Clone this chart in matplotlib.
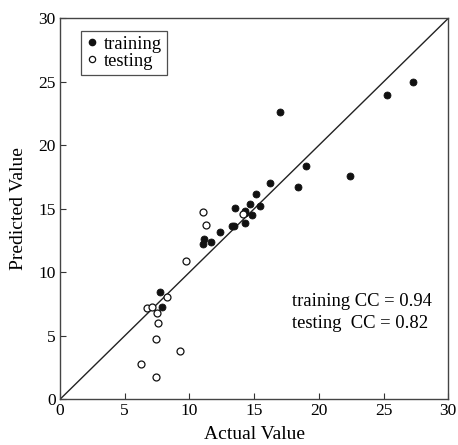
import matplotlib
matplotlib.use("Agg")
import matplotlib.pyplot as plt
from matplotlib.lines import Line2D

plt.rcParams['font.family'] = ['Liberation Serif', 'DejaVu Serif']
plt.rcParams['mathtext.fontset'] = 'stix'

train_actual = [7.73, 7.86, 11.06, 11.12, 11.66, 12.36, 13.29, 13.42, 13.54, 14.29, 14.27,
                14.32, 14.66, 14.86, 15.17, 15.48, 16.26, 16.98, 18.38, 19.0, 22.38, 25.3, 27.3]
train_pred = [8.48, 7.30, 12.25, 12.62, 12.41, 13.17, 13.64, 13.66, 15.03, 13.88, 14.82,
              14.69, 15.37, 14.48, 16.16, 15.19, 17.05, 22.66, 16.73, 18.38, 17.55, 24.0, 24.96]

test_actual = [6.23, 6.75, 7.14, 7.45, 7.45, 7.53, 7.55, 8.25, 9.26, 9.74, 11.06, 11.25, 14.16]
test_pred = [2.77, 7.19, 7.27, 1.75, 4.76, 6.83, 6.01, 8.03, 3.79, 10.91, 14.72, 13.7, 14.56]

ticks = [0, 5, 10, 15, 20, 25, 30]
cc_train = 0.94
cc_test = 0.82

fig = plt.figure(figsize=(4.58, 4.45), dpi=100)
ax = fig.add_axes([60/458, 1 - 399.3/445, (448.3 - 60)/458, (399.3 - 18.3)/445])

ax.plot([0, 30], [0, 30], color='#222222', lw=1.0, zorder=1)
ax.plot(train_actual, train_pred, 'o', color='#111111', ms=5.0, mew=0.6, zorder=3, clip_on=False)
ax.plot(test_actual, test_pred, 'o', mfc='white', mec='#111111', ms=5.0, mew=0.9, zorder=3, clip_on=False)

ax.set_xlim(0, 30)
ax.set_ylim(0, 30)
ax.set_xticks(ticks)
ax.set_yticks(ticks)
ax.tick_params(direction='in', length=4, width=0.8, labelsize=12.5, colors='#333333',
               labelcolor='black', pad=3)
for s in ax.spines.values():
    s.set_color('#444444')
    s.set_linewidth(1.0)

ax.set_xlabel('Actual Value', fontsize=14, labelpad=5)
ax.set_ylabel('Predicted Value', fontsize=14, labelpad=8)

handles = [Line2D([], [], marker='o', ls='none', color='#111111', ms=4.5),
           Line2D([], [], marker='o', ls='none', mfc='white', mec='#111111', ms=4.5, mew=0.9)]
leg = ax.legend(handles, ['training', 'testing'], loc='upper left', bbox_to_anchor=(0.053, 0.966),
                fontsize=13.4, frameon=True, fancybox=False, edgecolor='#222222',
                handlelength=0.7, handletextpad=0.3, borderpad=0.25, labelspacing=0.0,
                borderaxespad=0)
leg.get_frame().set_linewidth(0.9)

ax.text(17.9, 7.7, f'training CC = {cc_train:.2f}', fontsize=13.4, va='center', ha='left')
ax.text(17.9, 6.0, f'testing  CC = {cc_test:.2f}', fontsize=13.4, va='center', ha='left')

fig.savefig('out.png', dpi=100)
